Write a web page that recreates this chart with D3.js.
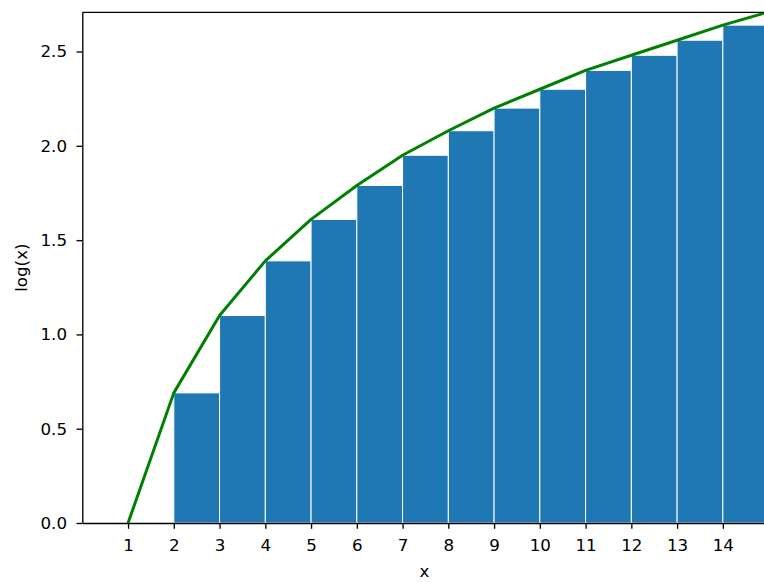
<!DOCTYPE html>
<html>
<head>
<meta charset="utf-8">
<script src="https://cdn.jsdelivr.net/npm/d3@7"></script>
<style>
  body { margin: 0; background: #fff; }
  text { font-family: "DejaVu Sans", sans-serif; fill: #000; }
</style>
</head>
<body>
<div id="chart"></div>
<script>
// values
const lineX = [1, 2, 3, 4, 5, 6, 7, 8, 9, 10, 11, 12, 13, 14, 15];
const lineY = [0, 0.69, 1.10, 1.39, 1.61, 1.79, 1.95, 2.08, 2.20, 2.30, 2.40, 2.48, 2.56, 2.64, 2.71];
const barX = [2, 3, 4, 5, 6, 7, 8, 9, 10, 11, 12, 13, 14];
const barY = [0.69, 1.10, 1.39, 1.61, 1.79, 1.95, 2.08, 2.20, 2.30, 2.40, 2.48, 2.56, 2.64];
const xTicks = [1, 2, 3, 4, 5, 6, 7, 8, 9, 10, 11, 12, 13, 14];
const yTicks = [0, 0.5, 1.0, 1.5, 2.0, 2.5];

const width = 764, height = 582;
const margin = {top: 12.3, left: 82.3, bottom: 59};
const plotRight = 768.6;
const fs = 16.7;

const svg = d3.select("#chart").append("svg")
    .attr("width", width)
    .attr("height", height);

const x = d3.scaleLinear().domain([0, 15]).range([margin.left, plotRight]);
const y = d3.scaleLinear().domain([0, 2.708]).range([height - margin.bottom, margin.top]);

// bars, left edge on x
svg.append("g").selectAll("rect")
    .data(barX)
    .join("rect")
    .attr("x", d => x(d))
    .attr("y", (d, i) => y(barY[i]))
    .attr("width", d => x(d + 1) - x(d))
    .attr("height", (d, i) => y(0) - y(barY[i]))
    .attr("fill", "#1f77b4")
    .attr("stroke", "#fff")
    .attr("stroke-width", 1);

// green curve
const line = d3.line()
    .x(d => x(d[0]))
    .y(d => y(d[1]));
svg.append("path")
    .datum(lineX.map((v, i) => [v, lineY[i]]))
    .attr("d", line)
    .attr("fill", "none")
    .attr("stroke", "#008000")
    .attr("stroke-width", 3)
    .attr("stroke-linejoin", "round");

// axes
const xAxis = svg.append("g")
    .attr("transform", `translate(0,${y(0)})`)
    .call(d3.axisBottom(x).tickValues(xTicks).tickSize(5.8).tickPadding(10.5).tickSizeOuter(0));
const yAxis = svg.append("g")
    .attr("transform", `translate(${margin.left},0)`)
    .call(d3.axisLeft(y).tickValues(yTicks).tickFormat(d3.format(".1f")).tickSize(5.8).tickPadding(9.5).tickSizeOuter(0));

[xAxis, yAxis].forEach(g => {
  g.select(".domain").attr("stroke", "#000").attr("stroke-width", 1.33);
  g.selectAll(".tick line").attr("stroke", "#000").attr("stroke-width", 1.33);
  g.selectAll(".tick text").attr("font-size", fs).attr("font-family", "DejaVu Sans");
});

// top spine
svg.append("line")
    .attr("x1", margin.left).attr("x2", plotRight)
    .attr("y1", y(2.708)).attr("y2", y(2.708))
    .attr("stroke", "#000").attr("stroke-width", 1.33);

// labels
svg.append("text")
    .attr("x", x(7.5) - 1).attr("y", 577)
    .attr("text-anchor", "middle")
    .attr("font-size", fs)
    .text("x");
svg.append("text")
    .attr("transform", `translate(26.5,${(y(0) + y(2.708)) / 2}) rotate(-90)`)
    .attr("text-anchor", "middle")
    .attr("font-size", fs)
    .text("log(x)");
</script>
</body>
</html>
